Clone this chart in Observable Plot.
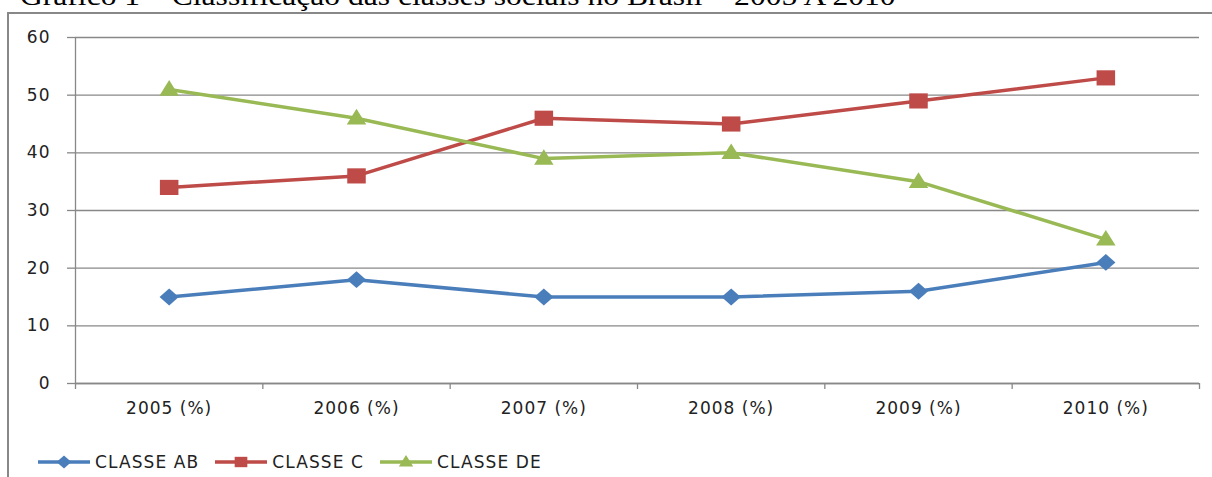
<!DOCTYPE html>
<html><head><meta charset="utf-8">
<script src="https://cdn.jsdelivr.net/npm/d3@7"></script>
<script src="https://cdn.jsdelivr.net/npm/@observablehq/plot@0.6"></script>
<style>
body{margin:0;background:#fff;width:1212px;height:477px;overflow:hidden;position:relative;}
#title{position:absolute;left:20px;top:-17px;font-family:"Liberation Serif",serif;font-size:27px;line-height:27px;white-space:nowrap;color:#000;transform-origin:0 0;transform:scaleX(1.17);}
#frame{position:absolute;left:7px;top:12px;width:1230px;height:500px;border-left:2px solid #888;border-top:2px solid #888;}
#chart{position:absolute;left:0;top:0;}
#chart text{letter-spacing:1px;fill:#222;}
#legend{position:absolute;left:38px;top:450px;height:24px;display:flex;align-items:center;font-family:"DejaVu Sans",sans-serif;font-size:17px;color:#222;letter-spacing:1.1px;}
#legend .item{display:flex;align-items:center;margin-right:16px;}
#legend svg{margin-right:5px;}
</style>
</head><body>
<div id="title">Gráfico 1 – Classificação das classes sociais no Brasil – 2005 A 2010</div>
<div id="frame"></div>
<div id="chart"></div>
<div id="legend"></div>
<script>
const categories = ["2005 (%)", "2006 (%)", "2007 (%)", "2008 (%)", "2009 (%)", "2010 (%)"];
const seriesNames = ["CLASSE AB", "CLASSE C", "CLASSE DE"];
const classeAB = [15, 18, 15, 15, 16, 21];
const classeC = [34, 36, 46, 45, 49, 53];
const classeDE = [51, 46, 39, 40, 35, 25];
const yTicks = [0, 10, 20, 30, 40, 50, 60];
const colors = ["#4a7ebb", "#be4b48", "#98b954"];

const diamond = {draw(ctx, size){ const h = Math.sqrt(size/2); ctx.moveTo(0,-h*0.92); ctx.lineTo(h*1.05,0); ctx.lineTo(0,h*0.92); ctx.lineTo(-h*1.05,0); ctx.closePath(); }};
const square = {draw(ctx, size){ const s = Math.sqrt(size)/2; ctx.moveTo(-s*1.1,-s*0.9); ctx.lineTo(s*1.1,-s*0.9); ctx.lineTo(s*1.1,s*0.9); ctx.lineTo(-s*1.1,s*0.9); ctx.closePath(); }};
const triangle = {draw(ctx, size){ const s = Math.sqrt(size)*1.25; const h = s*0.8; ctx.moveTo(0,-h*0.6); ctx.lineTo(s/2,h*0.4); ctx.lineTo(-s/2,h*0.4); ctx.closePath(); }};
const symbols = [diamond, square, triangle];
const markerR = [7.3, 9.5, 8.8];
const legendR = [5.6, 6.5, 6.5];

const allSeries = [classeAB, classeC, classeDE];
const data = [];
allSeries.forEach((vals, s) => vals.forEach((v, i) => data.push({series: seriesNames[s], i, v})));
const boundaries = d3.range(categories.length + 1).map(k => k - 0.5);

const chart = Plot.plot({
  width: 1212, height: 477,
  marginLeft: 75, marginRight: 13, marginTop: 37, marginBottom: 94,
  style: {fontFamily: "DejaVu Sans, sans-serif", fontSize: "17px", background: "transparent"},
  x: {type: "linear", domain: [-0.5, categories.length - 0.5], label: null},
  y: {domain: [0, 60], label: null},
  color: {domain: seriesNames, range: colors},
  marks: [
    Plot.gridY(yTicks, {stroke: "#888", strokeOpacity: 1, strokeWidth: 1.3}),
    Plot.axisY({ticks: yTicks, tickSize: 8, tickPadding: 17, stroke: "#888", strokeWidth: 1.3, fontSize: 17, label: null}),
    Plot.ruleX([-0.5], {stroke: "#888", strokeWidth: 1.3}),
    Plot.ruleY([0], {stroke: "#888", strokeWidth: 1.3}),
    Plot.axisX({ticks: boundaries, tickSize: 6, tickFormat: () => "", stroke: "#888", strokeWidth: 1.3, label: null}),
    Plot.axisX({ticks: d3.range(categories.length), tickSize: 0, tickPadding: 18, tickFormat: i => categories[i], fontSize: 17, label: null}),
    Plot.line(data, {x: "i", y: "v", z: "series", stroke: "series", strokeWidth: 3.5}),
    ...seriesNames.map((name, s) => Plot.dot(data.filter(d => d.series === name), {x: "i", y: "v", fill: colors[s], symbol: symbols[s], r: markerR[s], stroke: null}))
  ]
});
document.getElementById("chart").appendChild(chart);

const legend = d3.select("#legend");
seriesNames.forEach((name, s) => {
  const item = legend.append("div").attr("class", "item");
  const svg = item.append("svg").attr("width", 52).attr("height", 22);
  svg.append("line").attr("x1", 0).attr("x2", 52).attr("y1", 11).attr("y2", 11).attr("stroke", colors[s]).attr("stroke-width", 3.5);
  const p = d3.path(); symbols[s].draw(p, Math.PI * legendR[s] * legendR[s]);
  svg.append("path").attr("d", p.toString()).attr("transform", "translate(26,11)").attr("fill", colors[s]);
  item.append("span").text(name);
});
</script>
</body></html>
